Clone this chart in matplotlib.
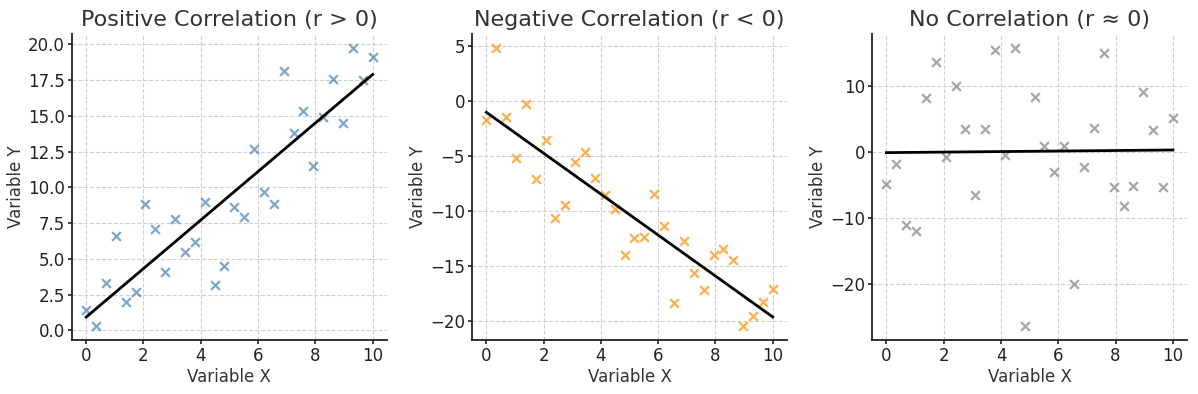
import numpy as np
import matplotlib
matplotlib.use("Agg")
import matplotlib.pyplot as plt

x = np.linspace(0, 10, 30)

y_pos = [1.45, 0.3, 3.3, 6.6, 2.0, 2.7, 8.8, 7.1, 4.1, 7.8,
         5.5, 6.2, 8.95, 3.2, 4.5, 8.6, 7.95, 12.65, 9.65, 8.8,
         18.15, 13.8, 15.35, 11.5, 14.9, 17.55, 14.5, 19.75, 17.5, 19.1]
y_neg = [-1.75, 4.85, -1.4, -5.2, -0.3, -7.05, -3.5, -10.65, -9.45, -5.55,
         -4.65, -7.0, -8.5, -9.8, -14.0, -12.45, -12.35, -8.45, -11.35, -18.35,
         -12.75, -15.6, -17.15, -13.95, -13.4, -14.4, -20.45, -19.55, -18.3, -17.05]
y_none = [-4.9, -1.9, -11.1, -12.0, 8.1, 13.55, -0.8, 10.0, 3.5, -6.55,
          3.5, 15.4, -0.5, 15.7, -26.3, 8.25, 0.85, -3.1, 0.85, -19.95,
          -2.3, 3.6, 14.85, -5.25, -8.15, -5.1, 9.1, 3.3, -5.35, 5.1]

titles = ["Positive Correlation (r > 0)", "Negative Correlation (r < 0)",
          "No Correlation (r \u2248 0)"]
colors = ["steelblue", "darkorange", "gray"]
series = [y_pos, y_neg, y_none]

plt.rcParams["font.family"] = "DejaVu Sans"
fig, axes = plt.subplots(1, 3, figsize=(11.98, 3.94), dpi=100)
fig.subplots_adjust(left=0.060, right=0.991, bottom=0.137, top=0.914, wspace=0.27)

for ax, y, c, t in zip(axes, series, colors, titles):
    y = np.array(y)
    ax.scatter(x, y, marker="x", s=40, color=c, alpha=0.7, linewidths=1.6, zorder=3)
    # least squares fit line
    m, b = np.polyfit(x, y, 1)
    ax.plot(x, m * x + b, color="black", linewidth=2, zorder=4)
    ax.set_title(t, fontsize=16, color="#333333")
    ax.set_xlabel("Variable X", fontsize=12, color="#333333", labelpad=2)
    ax.set_ylabel("Variable Y", fontsize=12, color="#333333", labelpad=2)
    ax.grid(True, linestyle="--", color="#d0d0d0", linewidth=0.8)
    ax.set_axisbelow(True)
    for s in ["top", "right"]:
        ax.spines[s].set_visible(False)
    for s in ["left", "bottom"]:
        ax.spines[s].set_linewidth(1.3)
        ax.spines[s].set_color("#222222")
    ax.tick_params(labelsize=12, direction="out", length=3, pad=2, colors="#222222", width=1.2)
    ax.set_xticks([0, 2, 4, 6, 8, 10])

axes[0].set_yticks(np.arange(0, 20.1, 2.5))
axes[2].set_yticks([-20, -10, 0, 10])

fig.savefig("out.png", dpi=100)
